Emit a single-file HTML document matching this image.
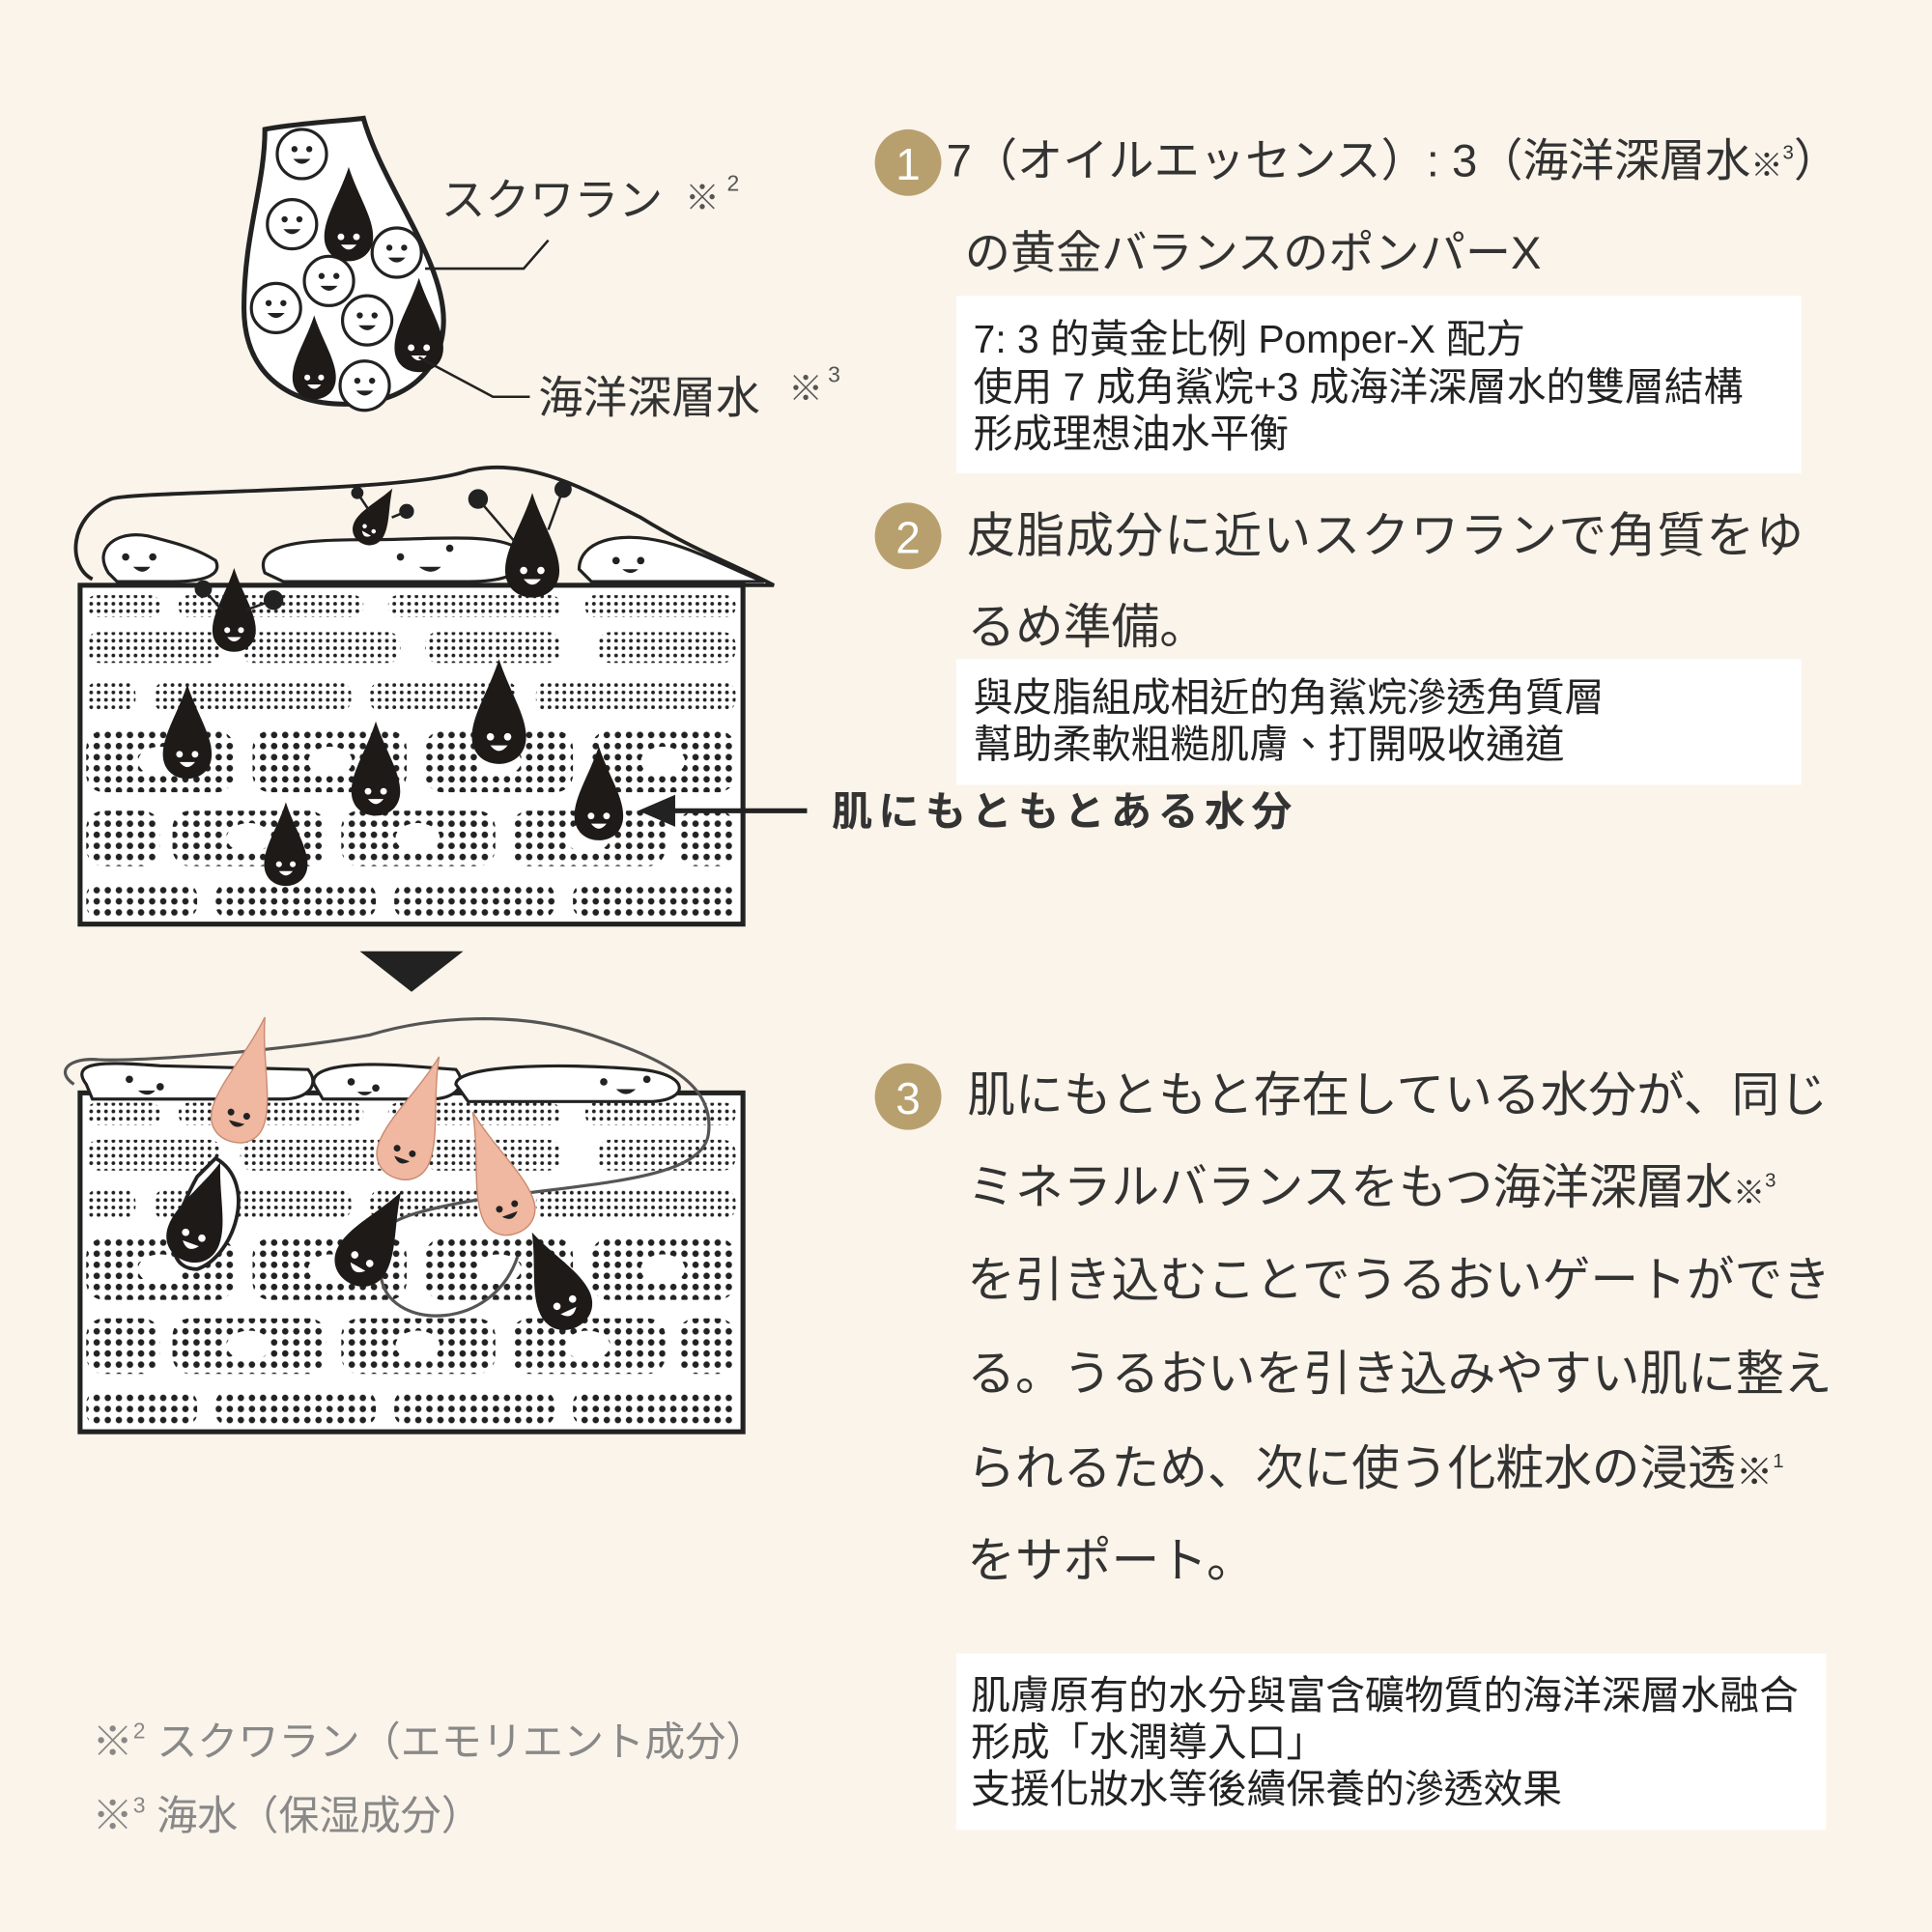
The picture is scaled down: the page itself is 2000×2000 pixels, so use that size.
<!DOCTYPE html>
<html><head><meta charset="utf-8"><style>
html,body{margin:0;padding:0;background:#fbf4ea;}
svg{display:block;}
text{font-family:"Liberation Sans","Noto Sans CJK TC",sans-serif;}
.jp{font-family:"Liberation Sans","Noto Sans CJK JP",sans-serif;}
</style></head><body>
<svg width="2000" height="2000" viewBox="0 0 1568 1568" xmlns="http://www.w3.org/2000/svg">
<defs>
<pattern id="dots" width="6" height="6" patternUnits="userSpaceOnUse"><circle cx="3" cy="3" r="1.5" fill="#222"/></pattern>
<pattern id="dots2" width="9" height="9" patternUnits="userSpaceOnUse"><circle cx="4.5" cy="4.5" r="2.6" fill="#222"/></pattern>
<g id="drop">
<path d="M0,-55 C8,-30 22,-10 22,8 C22,22 12,30 0,30 C-12,30 -22,22 -22,8 C-22,-10 -8,-30 0,-55Z" fill="#1e1a18"/>
<circle cx="-7" cy="8" r="3" fill="#fff"/><circle cx="7" cy="8" r="3" fill="#fff"/>
<path d="M-7,15 Q0,24 7,15Z" fill="#fff"/>
</g>
<g id="pdrop">
<path d="M0,-70 C6,-40 20,-15 20,5 C20,18 11,25 0,25 C-11,25 -20,18 -20,5 C-20,-15 -6,-40 0,-70Z" fill="#f0b8a0" stroke="#c98a70" stroke-width="1"/>
<circle cx="-6" cy="4" r="2.5" fill="#222"/><circle cx="6" cy="4" r="2.5" fill="#222"/>
<path d="M-6,10 Q0,17 6,10Z" fill="#222"/>
</g>
<g id="smile">
<circle r="20" fill="#fff" stroke="#222" stroke-width="2.5"/>
<circle cx="-6" cy="-4" r="2.5" fill="#222"/><circle cx="6" cy="-4" r="2.5" fill="#222"/>
<path d="M-7,4 Q0,12 7,4Z" fill="#222"/>
</g>
<g id="skin">
<rect x="0" y="0" width="538" height="275" fill="#fff" stroke="#222" stroke-width="4"/>
<g fill="url(#dots)">
<rect x="5" y="8" width="60" height="18" rx="8"/><rect x="80" y="8" width="150" height="18" rx="8"/><rect x="250" y="8" width="140" height="18" rx="8"/><rect x="410" y="8" width="122" height="18" rx="8"/>
<rect x="5" y="38" width="110" height="25" rx="10"/><rect x="130" y="38" width="130" height="25" rx="10"/><rect x="280" y="38" width="110" height="25" rx="10"/><rect x="420" y="38" width="112" height="25" rx="10"/>
<rect x="5" y="78" width="40" height="25" rx="10"/><rect x="60" y="78" width="160" height="25" rx="10"/><rect x="235" y="78" width="120" height="25" rx="10"/><rect x="370" y="78" width="162" height="25" rx="10"/>
</g>
<g fill="url(#dots2)">
<rect x="5" y="118" width="120" height="50" rx="14"/><rect x="140" y="118" width="125" height="50" rx="14"/><rect x="280" y="118" width="120" height="50" rx="14"/><rect x="415" y="118" width="117" height="50" rx="14"/>
<rect x="5" y="183" width="60" height="45" rx="14"/><rect x="75" y="183" width="125" height="45" rx="14"/><rect x="212" y="183" width="125" height="45" rx="14"/><rect x="350" y="183" width="125" height="45" rx="14"/><rect x="485" y="183" width="47" height="45" rx="14"/>
<rect x="5" y="242" width="90" height="28" rx="10"/><rect x="110" y="242" width="130" height="28" rx="10"/><rect x="255" y="242" width="130" height="28" rx="10"/><rect x="400" y="242" width="132" height="28" rx="10"/>
</g>
<g fill="#fff">
<ellipse cx="65" cy="143" rx="18" ry="12"/><ellipse cx="203" cy="143" rx="18" ry="12"/><ellipse cx="340" cy="143" rx="18" ry="12"/><ellipse cx="473" cy="143" rx="18" ry="12"/>
<ellipse cx="137" cy="205" rx="18" ry="12"/><ellipse cx="274" cy="205" rx="18" ry="12"/><ellipse cx="412" cy="205" rx="18" ry="12"/>
</g>
</g>
</defs>

<path d="M215,105 C240,100 280,98 295,96 C310,150 360,210 360,260 C360,300 330,328 280,328 C230,328 198,300 198,250 C198,190 215,150 215,105Z" fill="#fff" stroke="#222" stroke-width="4"/>
<use href="#smile" x="245" y="125"/><use href="#smile" x="237" y="182"/><use href="#smile" x="322" y="205"/><use href="#smile" x="267" y="228"/><use href="#smile" x="224" y="250"/><use href="#smile" x="298" y="260"/><use href="#smile" x="296" y="313"/>
<use href="#drop" transform="translate(283,185) scale(0.9)"/><use href="#drop" transform="translate(340,275) scale(0.9)"/><use href="#drop" transform="translate(255,300) scale(0.8)"/>
<path d="M345,218 L425,218 L445,195" fill="none" stroke="#222" stroke-width="2"/>
<path d="M340,290 L400,322 L430,322" fill="none" stroke="#222" stroke-width="2"/>
<text x="358" y="175" font-size="36" fill="#333" class="jp">スクワラン</text>
<text x="556" y="170" font-size="28" fill="#555">※</text><text x="590" y="155" font-size="18" fill="#555">2</text>
<text x="437" y="335" font-size="36" fill="#333" class="jp">海洋深層水</text>
<text x="640" y="325" font-size="28" fill="#555">※</text><text x="672" y="310" font-size="18" fill="#555">3</text>

<use href="#skin" x="65" y="475"/>
<path d="M75,470 C55,460 55,420 90,405 C110,398 330,400 380,382 C430,370 480,400 520,420 C560,445 600,460 628,475 L600,475" fill="none" stroke="#222" stroke-width="3"/>
<path d="M88,465 C75,445 95,430 120,435 C140,440 160,445 175,455 C180,465 170,472 140,472 L95,472Z" fill="#fff" stroke="#222" stroke-width="2.5"/>
<path d="M215,465 C205,440 250,438 300,438 C350,438 400,432 420,445 C430,460 420,472 380,472 L230,472Z" fill="#fff" stroke="#222" stroke-width="2.5"/>
<path d="M470,462 C470,440 500,430 540,440 C570,448 600,465 620,472 L480,472Z" fill="#fff" stroke="#222" stroke-width="2.5"/>
<g fill="#222"><circle cx="102" cy="452" r="3"/><circle cx="124" cy="452" r="3"/><path d="M108,460 Q116,468 122,460Z"/>
<circle cx="325" cy="452" r="3"/><circle cx="365" cy="445" r="3"/><path d="M340,460 Q350,468 358,460Z"/>
<circle cx="500" cy="455" r="3"/><circle cx="520" cy="455" r="3"/><path d="M505,462 Q512,468 518,462Z"/></g>
<use href="#drop" transform="translate(190,505) scale(0.8)"/>
<use href="#drop" transform="translate(302,425) rotate(30) scale(0.6)"/>
<use href="#drop" transform="translate(432,455) scale(1)"/>
<g stroke="#222" stroke-width="2" fill="#222"><line x1="180" y1="495" x2="165" y2="478"/><circle cx="165" cy="478" r="6"/><line x1="200" y1="495" x2="222" y2="487"/><circle cx="222" cy="487" r="7"/>
<line x1="418" y1="440" x2="388" y2="405"/><circle cx="388" cy="405" r="7"/><line x1="445" y1="430" x2="457" y2="397"/><circle cx="457" cy="397" r="6"/>
<line x1="300" y1="415" x2="290" y2="400"/><circle cx="290" cy="400" r="4"/><line x1="318" y1="420" x2="330" y2="415"/><circle cx="330" cy="415" r="5"/></g>
<use href="#drop" transform="translate(405,590)"/><use href="#drop" transform="translate(152,605) scale(0.9)"/><use href="#drop" transform="translate(305,635) scale(0.9)"/><use href="#drop" transform="translate(486,655) scale(0.9)"/><use href="#drop" transform="translate(232,695) scale(0.8)"/>
<line x1="655" y1="658" x2="545" y2="658" stroke="#222" stroke-width="4"/>
<path d="M518,658 L548,645 L548,671Z" fill="#222"/>
<text x="675" y="670" font-size="33" font-weight="bold" fill="#333" class="jp" letter-spacing="5">肌にもともとある水分</text>

<path d="M292,772 L376,772 L334,805Z" fill="#222"/>

<use href="#skin" x="65" y="887"/>
<path d="M60,880 C45,870 55,858 80,860 C120,862 250,850 300,840 C350,825 420,820 480,840 C540,860 580,880 575,920 C570,960 470,960 380,975 C300,990 300,1000 310,1040 C320,1080 400,1080 420,1020" fill="none" stroke="#555" stroke-width="2.5"/>
<path d="M70,880 C55,860 90,862 130,865 L250,868 C260,880 250,892 230,892 L75,892Z" fill="#fff" stroke="#222" stroke-width="2.5"/>
<path d="M255,880 C250,865 290,862 330,865 L370,868 C380,880 370,892 350,892 L262,892Z" fill="#fff" stroke="#222" stroke-width="2.5"/>
<path d="M370,880 C370,865 450,862 520,868 C560,872 560,892 530,894 L380,894Z" fill="#fff" stroke="#222" stroke-width="2.5"/>
<g fill="#222"><circle cx="105" cy="876" r="3"/><circle cx="130" cy="882" r="3"/><path d="M112,885 Q120,892 126,885Z"/>
<circle cx="285" cy="878" r="3"/><circle cx="305" cy="883" r="3"/><path d="M290,886 Q296,892 302,886Z"/>
<circle cx="490" cy="878" r="3"/><circle cx="525" cy="876" r="3"/><path d="M500,884 Q508,892 516,884Z"/></g>
<path d="M160,955 C130,1010 140,1030 160,1030 C190,1020 210,960 175,940Z" fill="#fff" stroke="#222" stroke-width="3"/>
<use href="#drop" transform="translate(160,995) rotate(20)"/>
<use href="#pdrop" transform="translate(195,900) rotate(15) scale(1.1)"/>
<use href="#drop" transform="translate(298,1015) rotate(30)"/>
<use href="#pdrop" transform="translate(330,930) rotate(20) scale(1.1)"/>
<use href="#drop" transform="translate(455,1050) rotate(-25)"/>
<use href="#pdrop" transform="translate(410,975) rotate(-20) scale(1.1)"/>

<circle cx="737" cy="132" r="27" fill="#b8a06e"/><text x="737" y="146" font-size="36" fill="#fff" text-anchor="middle">1</text>
<text x="768" y="143" font-size="37" fill="#333" class="jp">7（オイルエッセンス）: 3（海洋深層水<tspan font-size="26">※</tspan><tspan font-size="16" dy="-14">3</tspan><tspan dy="14">）</tspan></text>
<text x="783" y="218" font-size="37" fill="#333" class="jp">の黄金バランスのポンパーX</text>
<rect x="776" y="240" width="686" height="144" fill="#fff"/>
<text font-size="32" fill="#222"><tspan x="790" y="286">7: 3 的黃金比例 Pomper-X 配方</tspan><tspan x="790" y="325">使用 7 成角鯊烷+3 成海洋深層水的雙層結構</tspan><tspan x="790" y="363">形成理想油水平衡</tspan></text>

<circle cx="737" cy="435" r="27" fill="#b8a06e"/><text x="737" y="449" font-size="36" fill="#fff" text-anchor="middle">2</text>
<text x="785" y="448" font-size="39" fill="#333" class="jp" letter-spacing="1">皮脂成分に近いスクワランで角質をゆ</text>
<text x="785" y="522" font-size="39" fill="#333" class="jp">るめ準備。</text>
<rect x="776" y="535" width="686" height="102" fill="#fff"/>
<text font-size="32" fill="#222"><tspan x="790" y="577">與皮脂組成相近的角鯊烷滲透角質層</tspan><tspan x="790" y="615">幫助柔軟粗糙肌膚、打開吸收通道</tspan></text>

<circle cx="737" cy="890" r="27" fill="#b8a06e"/><text x="737" y="904" font-size="36" fill="#fff" text-anchor="middle">3</text>
<g font-size="39" fill="#333" class="jp">
<text x="785" y="902" class="jp">肌にもともと存在している水分が、同じ</text>
<text x="785" y="977" class="jp">ミネラルバランスをもつ海洋深層水<tspan font-size="26">※</tspan><tspan font-size="16" dy="-14">3</tspan></text>
<text x="785" y="1052" class="jp">を引き込むことでうるおいゲートができ</text>
<text x="785" y="1128" class="jp">る。うるおいを引き込みやすい肌に整え</text>
<text x="785" y="1205" class="jp">られるため、次に使う化粧水の浸透<tspan font-size="30">※</tspan><tspan font-size="16" dy="-14">1</tspan></text>
<text x="785" y="1280" class="jp">をサポート。</text>
</g>
<rect x="776" y="1342" width="706" height="143" fill="#fff"/>
<text font-size="32" fill="#222"><tspan x="788" y="1387">肌膚原有的水分與富含礦物質的海洋深層水融合</tspan><tspan x="788" y="1425">形成「水潤導入口」</tspan><tspan x="788" y="1463">支援化妝水等後續保養的滲透效果</tspan></text>

<g fill="#888" font-size="33" class="jp">
<text x="75" y="1425" class="jp">※<tspan font-size="18" dy="-14">2</tspan><tspan dy="14"> スクワラン（エモリエント成分）</tspan></text>
<text x="75" y="1485" class="jp">※<tspan font-size="18" dy="-14">3</tspan><tspan dy="14"> 海水（保湿成分）</tspan></text>
</g>
</svg>
</body></html>
